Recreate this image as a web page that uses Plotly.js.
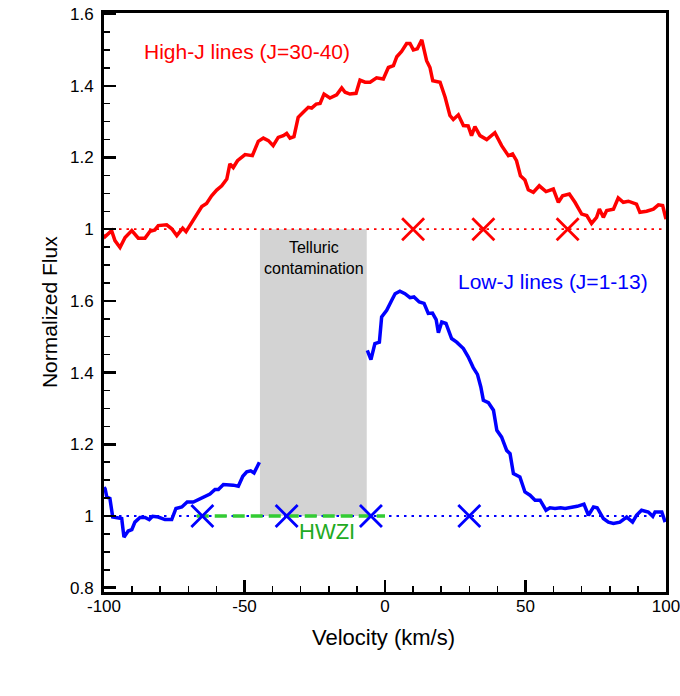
<!DOCTYPE html>
<html>
<head>
<meta charset="utf-8">
<script src="https://cdn.plot.ly/plotly-3.0.1.min.js"></script>
<style>html,body{margin:0;padding:0;background:#fff;}#chart{width:680px;height:696px;}</style>
</head>
<body>
<div id="chart"></div>
<script>
// ---------------- DATA ----------------
// High-J lines (J=30-40): velocity (km/s) and normalized flux (plotted with +0.8 offset)
const highJ_vel = [-100,-99.6,-97.3,-96.1,-94.3,-92.5,-90.1,-87.8,-85.4,-83.6,-81.9,-80.7,-77.7,-75.9,-74.1,-72.0,-70.8,-69.4,-67.6,-65.2,-63.5,-61.7,-59.9,-58.1,-56.3,-55.2,-54.0,-52.5,-49.8,-47.2,-45.1,-43.3,-41.5,-39.8,-38.0,-36.2,-35.0,-33.8,-32.4,-30.9,-29.1,-27.3,-26.1,-24.5,-23.1,-21.7,-19.6,-17.2,-15.4,-14.2,-12.5,-10.3,-8.9,-7.1,-5.3,-3.0,-0.6,1.2,3.0,4.2,5.9,7.7,8.9,10.1,11.5,13.1,14.8,16.0,17.0,19.6,21.4,23.1,24.3,26.1,27.9,29.6,30.8,32.0,33.8,36.2,39.1,41.5,43.9,45.4,46.8,48.2,49.8,51.0,52.8,54.9,57.3,59.9,61.7,63.2,65.6,67.6,70.0,71.8,73.5,75.3,76.3,77.7,78.9,81.3,83.0,84.8,86.6,89.5,90.7,93.1,95.5,97.3,98.8,100];
const highJ_flux = [0.985,0.979,0.996,0.968,0.949,0.977,0.996,0.975,0.975,0.994,0.998,1.010,1.012,1.001,0.982,1.003,0.993,1.010,1.035,1.063,1.072,1.093,1.109,1.121,1.140,1.182,1.172,1.191,1.208,1.205,1.245,1.254,1.247,1.233,1.256,1.261,1.267,1.254,1.258,1.312,1.326,1.340,1.338,1.349,1.351,1.377,1.366,1.375,1.394,1.382,1.377,1.379,1.416,1.410,1.410,1.422,1.419,1.451,1.456,1.481,1.496,1.518,1.518,1.500,1.503,1.528,1.470,1.451,1.414,1.410,1.368,1.317,1.306,1.319,1.289,1.288,1.261,1.286,1.261,1.250,1.269,1.233,1.205,1.210,1.191,1.149,1.137,1.110,1.103,1.121,1.105,1.112,1.075,1.093,1.098,1.075,1.042,1.038,1.016,1.033,1.056,1.033,1.052,1.056,1.087,1.075,1.078,1.070,1.047,1.050,1.056,1.068,1.066,1.028];
const highJ_offset = 0.8;

// Low-J lines (J=1-13): two segments, interrupted by telluric contamination
const lowJ_vel_a = [-100,-99.6,-99.0,-97.9,-96.9,-94.9,-93.7,-92.9,-91.4,-90.1,-89.0,-87.2,-85.4,-83.9,-82.7,-80.7,-78.3,-75.9,-74.4,-72.3,-70.4,-68.2,-66.4,-64.1,-62.3,-60.5,-59.3,-57.5,-55.8,-54.0,-52.2,-50.6,-49.2,-47.8,-46.6,-44.7];
const lowJ_flux_a = [1.080,1.076,1.053,1.049,0.997,0.996,0.993,0.941,0.958,0.962,0.983,0.996,0.996,0.990,0.999,0.997,0.990,0.990,1.021,1.025,1.039,1.039,1.046,1.053,1.061,1.074,1.074,1.088,1.088,1.086,1.083,1.111,1.123,1.126,1.120,1.150];
const lowJ_vel_b = [-6.3,-5.0,-3.6,-2.0,-1.2,0.6,2.4,3.6,5.3,7.1,8.9,10.3,12.2,13.9,15.4,16.9,18.2,19.0,20.2,21.7,23.7,25.5,27.9,29.6,31.4,32.9,34.1,35.0,36.8,38.6,39.8,41.5,43.3,44.5,45.7,48.0,49.8,51.6,53.4,55.2,57.3,58.7,60.5,62.5,64.1,66.2,68.4,70.8,72.4,74.2,75.5,77.7,79.5,81.3,83.6,86.0,88.1,89.5,91.3,93.7,95.3,96.1,98.5,99.7];
const lowJ_flux_b = [1.462,1.436,1.481,1.485,1.555,1.574,1.602,1.620,1.627,1.620,1.609,1.611,1.597,1.593,1.565,1.566,1.548,1.511,1.541,1.537,1.495,1.485,1.467,1.444,1.414,1.395,1.360,1.323,1.316,1.295,1.239,1.220,1.183,1.174,1.118,1.109,1.067,1.058,1.044,1.044,1.016,1.023,1.021,1.023,1.021,1.024,1.027,1.033,1.002,1.025,1.023,0.993,0.983,0.979,0.983,0.997,0.983,1.002,1.016,1.011,0.999,1.011,1.011,0.983];

// Continuum level and markers
const continuum_vel = [-100, 100];
const continuum_flux = [1, 1];
const highJ_marks_vel = [10, 35, 65];
const lowJ_marks_vel = [-65, -35, -5, 30];
const hwzi_vel = [-67, 0];
const telluric_vel = [-44.5, -6.5];
const telluric_flux = [1.0, 1.8];

// Axis ticks
const ytick_vals = [0.8, 1.0, 1.2, 1.4, 1.6, 1.8, 2.0, 2.2, 2.4];
const ytick_text = ["0.8", "1", "1.2", "1.4", "1.6", "1", "1.2", "1.4", "1.6"];
const xtick_vals = [-100, -50, 0, 50, 100];
const xtick_text = ["-100", "-50", "0", "50", "100"];

// ---------------- PLOT ----------------
const FONT = "Liberation Sans, Arial, Helvetica, sans-serif";
const RED = "#ff0000", BLUE = "#0000ff", GREEN = "#33cc33";

const shift = a => a.map(v => v + highJ_offset);

const traces = [
  {x: continuum_vel, y: shift(continuum_flux), mode: "lines", line: {color: RED, width: 1.8, dash: "2.5px,5px"}, hoverinfo: "skip"},
  {x: continuum_vel, y: continuum_flux, mode: "lines", line: {color: BLUE, width: 1.8, dash: "2.5px,5px"}, hoverinfo: "skip"},
  {x: hwzi_vel, y: hwzi_vel.map(() => 1), mode: "lines", line: {color: GREEN, width: 3.5, dash: "12px,6px"}},
  {x: highJ_vel, y: shift(highJ_flux), mode: "lines", line: {color: RED, width: 3.5}},
  {x: lowJ_vel_a, y: lowJ_flux_a, mode: "lines", line: {color: BLUE, width: 3.5}},
  {x: lowJ_vel_b, y: lowJ_flux_b, mode: "lines", line: {color: BLUE, width: 3.5}},
  {x: highJ_marks_vel, y: highJ_marks_vel.map(() => 1 + highJ_offset), mode: "markers",
   marker: {symbol: "x-thin", size: 22, line: {color: RED, width: 2.8}}},
  {x: lowJ_marks_vel, y: lowJ_marks_vel.map(() => 1), mode: "markers",
   marker: {symbol: "x-thin", size: 22, line: {color: BLUE, width: 2.8}}}
];

const layout = {
  width: 680, height: 696,
  margin: {l: 104, r: 14, t: 13, b: 104},
  paper_bgcolor: "#ffffff", plot_bgcolor: "#ffffff",
  showlegend: false,
  font: {family: FONT, color: "#000", size: 17},
  xaxis: {
    range: [-100, 100], tickmode: "array", tickvals: xtick_vals, ticktext: xtick_text,
    ticks: "inside", ticklen: 12, tickwidth: 2.5, tickcolor: "#000",
    showline: true, linewidth: 3, linecolor: "#000", mirror: true,
    showgrid: false, zeroline: false, ticklabeloverflow: "allow", ticklabelstandoff: -3,
    tickfont: {size: 17, family: FONT},
    minor: {dtick: 10, tick0: 0, ticks: "inside", ticklen: 6, tickwidth: 1.5, tickcolor: "#000", showgrid: false}
  },
  yaxis: {
    range: [0.788, 2.403], tickmode: "array", tickvals: ytick_vals, ticktext: ytick_text,
    ticks: "inside", ticklen: 12, tickwidth: 2.5, tickcolor: "#000",
    showline: true, linewidth: 3, linecolor: "#000", mirror: true,
    showgrid: false, zeroline: false, ticklabelstandoff: 4,
    tickfont: {size: 17, family: FONT},
    minor: {dtick: 0.05, tick0: 0, ticks: "inside", ticklen: 6, tickwidth: 1.5, tickcolor: "#000", showgrid: false}
  },
  shapes: [
    {type: "rect", xref: "x", yref: "y", x0: telluric_vel[0], x1: telluric_vel[1], y0: telluric_flux[0], y1: telluric_flux[1],
     fillcolor: "#d3d3d3", line: {width: 0}, layer: "below"}
  ],
  annotations: [
    {xref: "paper", yref: "paper", x: -0.096, y: 0.4836, text: "Normalized Flux", textangle: -90, showarrow: false,
     font: {size: 21, family: FONT, color: "#000"}, xanchor: "center", yanchor: "middle"},
    {xref: "paper", yref: "paper", x: 0.497, y: -0.0794, text: "Velocity (km/s)", showarrow: false,
     font: {size: 22, family: FONT, color: "#000"}, xanchor: "center", yanchor: "middle"},
    {x: -49.1, y: 2.2946, text: "High-J lines (J=30-40)", showarrow: false, font: {size: 21, family: FONT, color: RED}, xanchor: "center", yanchor: "middle"},
    {x: 59.8, y: 1.653, text: "Low-J lines (J=1-13)", showarrow: false, font: {size: 21, family: FONT, color: BLUE}, xanchor: "center", yanchor: "middle"},
    {x: -20.6, y: 0.958, text: "HWZI", showarrow: false, font: {size: 22, family: FONT, color: "#22aa22"}, xanchor: "center", yanchor: "middle"},
    {x: -25.3, y: 1.720, text: "Telluric<br>contamination", showarrow: false, font: {size: 16, family: FONT, color: "#000"}, xanchor: "center", yanchor: "middle"}
  ]
};

Plotly.newPlot("chart", traces, layout, {displayModeBar: false, staticPlot: true});
</script>
</body>
</html>
